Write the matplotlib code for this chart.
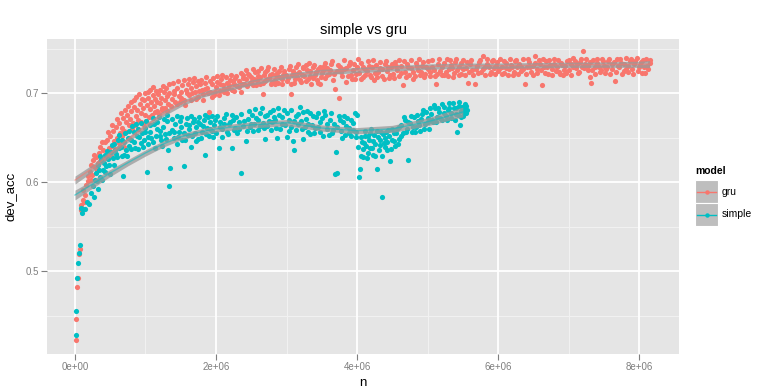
import numpy as np
import matplotlib
matplotlib.use("Agg")
import matplotlib.pyplot as plt
from matplotlib.patches import Rectangle

plt.rcParams['font.family'] = ['Liberation Sans', 'DejaVu Sans']

# ---------------- data (n in millions, dev_acc) ----------------
gru_a = np.array([
 [0.01,0.423],[0.02,0.446],[0.03,0.482],[0.04,0.492],[0.06,0.520],[0.07,0.525],[0.08,0.569],[0.09,0.575],[0.11,0.580],[0.12,0.591],
 [0.13,0.578],[0.14,0.586],[0.16,0.597],[0.18,0.602],[0.19,0.607],[0.21,0.612],[0.23,0.620],[0.24,0.608],[0.26,0.625],[0.28,0.617],
 [0.30,0.628],[0.32,0.622],[0.34,0.633],[0.36,0.640],[0.38,0.626],[0.40,0.636],[0.42,0.645],[0.44,0.630],[0.46,0.648],[0.48,0.638],
 [0.50,0.652],[0.52,0.641],[0.54,0.658],[0.56,0.646],[0.58,0.662],[0.60,0.650],[0.62,0.667],[0.64,0.655],[0.66,0.661],[0.68,0.672],
 [0.70,0.658],[0.72,0.668],[0.74,0.676],[0.76,0.664],[0.78,0.671],[0.80,0.680],[0.82,0.667],[0.84,0.685],[0.86,0.674],[0.88,0.681],
 [0.90,0.670],[0.92,0.688],[0.94,0.678],[0.96,0.684],[0.98,0.692],[1.00,0.676],[1.02,0.687],[1.04,0.695],[1.06,0.682],[1.08,0.690],
 [1.10,0.698],[1.12,0.686],[1.14,0.694],[1.16,0.680],[1.18,0.699],[1.20,0.689],[1.22,0.695],[1.24,0.684],[1.26,0.701],[1.28,0.692],
 [1.30,0.697],[1.32,0.688],[1.34,0.700],[1.37,0.694],[1.40,0.703],[1.42,0.690],[1.45,0.706],[1.47,0.697],[1.50,0.701],[1.52,0.709],
 [1.55,0.693],[1.57,0.704],[1.60,0.711],[1.62,0.698],[1.65,0.706],[1.67,0.713],[1.70,0.701],[1.72,0.708],[1.75,0.696],[1.77,0.710],
 [1.80,0.704],[1.82,0.699],[1.85,0.712],[1.87,0.706],[1.90,0.679],[1.92,0.702],[1.95,0.710],[1.97,0.698],[2.00,0.707],[2.02,0.713],
 [2.05,0.703],[2.07,0.716],[2.10,0.709],[2.12,0.701],[2.15,0.712],[2.17,0.706],[2.20,0.715],[2.22,0.704],[2.25,0.710],[2.27,0.717],
 [2.30,0.708],[2.33,0.714],[2.36,0.701],[2.38,0.720],[2.40,0.710],[2.43,0.716],[2.45,0.722],[2.48,0.712],[2.50,0.718],[2.53,0.709],
 [2.55,0.724],[2.58,0.715],[2.60,0.719],[2.63,0.711],[2.66,0.699],[2.68,0.721],[2.70,0.714],[2.73,0.726],[2.75,0.717],[2.78,0.711],
 [2.80,0.722],[2.83,0.715],[2.85,0.720],[2.88,0.712],[2.90,0.725],[2.93,0.716],[2.95,0.721],[3.00,0.714],[3.03,0.727],[3.06,0.699],
 [3.08,0.720],[3.10,0.712],[3.13,0.730],[3.15,0.718],[3.18,0.724],[3.20,0.713],[3.23,0.728],[3.25,0.719],[3.28,0.732],[3.30,0.716],
 [3.33,0.725],[3.35,0.711],[3.38,0.729],[3.40,0.721],[3.43,0.715],[3.45,0.727],[3.48,0.710],[3.50,0.723],[3.53,0.731],[3.55,0.717],
 [3.58,0.728],[3.60,0.722],[3.63,0.733],[3.66,0.715],[3.69,0.705],[3.71,0.725],[3.74,0.695],[3.76,0.730],[3.79,0.719],[3.82,0.727],
 [3.85,0.713],[3.88,0.732],[3.91,0.721],[3.94,0.726],[3.97,0.716],[4.00,0.729],[4.03,0.723],[4.06,0.734],[4.09,0.718],[4.12,0.727],
 [4.15,0.736],[4.18,0.721],[4.21,0.729],[4.24,0.715],[4.27,0.732],[4.30,0.724],[4.33,0.728],[4.36,0.719],[4.39,0.733],[4.42,0.725],
 [4.45,0.717],[4.48,0.730],[4.51,0.722],[4.54,0.735],[4.57,0.726],[4.60,0.719],[4.63,0.731],[4.65,0.709],[4.68,0.724],[4.71,0.733],
 [4.74,0.720],[4.77,0.728],[4.80,0.716],[4.83,0.734],[4.86,0.726],[4.89,0.721],[4.92,0.731],[4.95,0.718],[4.98,0.729],[5.01,0.736],
 [5.04,0.724],[5.07,0.730],[5.10,0.719],[5.12,0.710],[5.15,0.733],[5.18,0.725],[5.21,0.729],[5.24,0.721],[5.27,0.739],[5.30,0.727],
 [5.33,0.732],[5.36,0.718],[5.39,0.735],[5.42,0.726],[5.45,0.730],[5.48,0.722],[5.51,0.737],[5.54,0.728],[5.57,0.712],[5.60,0.733],
 [5.63,0.726],[5.67,0.710],[5.70,0.731],[5.73,0.735],[5.76,0.724],[5.79,0.742],[5.82,0.729],[5.85,0.733],[5.88,0.722],[5.91,0.736],
 [5.94,0.728],[5.97,0.731],[6.00,0.725],[6.03,0.738],[6.06,0.730],[6.09,0.723],[6.12,0.734],[6.15,0.727],[6.18,0.732],[6.21,0.721],
 [6.24,0.736],[6.27,0.729],[6.30,0.733],[6.33,0.725],[6.36,0.739],[6.38,0.710],[6.41,0.730],[6.44,0.735],[6.47,0.724],[6.50,0.731],
 [6.53,0.742],[6.56,0.727],[6.59,0.733],[6.62,0.709],[6.65,0.729],[6.68,0.736],[6.71,0.722],[6.74,0.732],[6.77,0.727],[6.80,0.738],
 [6.83,0.730],[6.86,0.724],[6.89,0.734],[6.92,0.721],[6.95,0.731],[6.98,0.736],[7.01,0.726],[7.04,0.733],[7.07,0.740],[7.10,0.728],
 [7.13,0.723],[7.16,0.735],[7.19,0.730],[7.21,0.747],[7.24,0.733],[7.27,0.726],[7.30,0.718],[7.32,0.712],[7.35,0.737],[7.38,0.729],
 [7.41,0.734],[7.44,0.724],[7.47,0.739],[7.50,0.731],[7.53,0.727],[7.56,0.736],[7.59,0.722],[7.62,0.733],[7.66,0.714],[7.69,0.738],
 [7.72,0.729],[7.75,0.734],[7.78,0.725],[7.81,0.740],[7.84,0.731],[7.87,0.736],[7.90,0.727],[7.93,0.733],[7.97,0.740],[8.00,0.729],
 [8.03,0.735],[8.06,0.737],[8.09,0.723],[8.12,0.731],[8.15,0.734],
])
gru_b = np.array([
 [0.22,0.603],[0.27,0.631],[0.31,0.614],[0.35,0.624],[0.39,0.645],[0.43,0.627],[0.47,0.656],[0.49,0.632],
 [0.51,0.630],[0.53,0.664],[0.57,0.637],[0.59,0.671],[0.63,0.644],[0.65,0.678],[0.67,0.652],[0.69,0.640],[0.71,0.681],[0.73,0.656],
 [0.75,0.686],[0.77,0.650],[0.79,0.690],[0.81,0.660],[0.83,0.692],[0.85,0.664],[0.87,0.696],[0.89,0.660],[0.91,0.699],[0.93,0.668],
 [0.95,0.694],[0.97,0.665],[0.99,0.700],[1.01,0.669],[1.03,0.702],[1.05,0.673],[1.07,0.704],[1.09,0.676],[1.11,0.707],[1.13,0.679],
 [1.15,0.703],[1.17,0.690],[1.19,0.677],[1.21,0.704],[1.23,0.681],[1.25,0.708],[1.27,0.683],[1.29,0.706],[1.31,0.680],[1.33,0.710],
 [1.36,0.686],[1.39,0.712],[1.41,0.699],[1.44,0.688],[1.46,0.714],[1.49,0.690],[1.51,0.695],[1.54,0.715],[1.56,0.687],[1.59,0.700],
 [1.61,0.716],[1.64,0.692],[1.66,0.700],[1.69,0.717],[1.71,0.694],[1.74,0.714],[1.76,0.703],[1.79,0.715],[1.81,0.693],[1.84,0.705],
 [1.86,0.718],[1.89,0.700],[1.91,0.714],[1.94,0.696],[1.96,0.717],[1.99,0.702],[2.01,0.719],[2.04,0.698],[2.06,0.710],[2.09,0.720],
 [2.11,0.705],[2.14,0.718],[2.16,0.700],[2.19,0.709],[2.21,0.721],[2.24,0.714],[2.26,0.703],[2.29,0.719],[2.32,0.707],[2.35,0.723],
 [2.37,0.711],[2.39,0.717],[2.42,0.726],[2.44,0.708],[2.47,0.720],[2.49,0.713],[2.52,0.727],[2.54,0.716],[2.57,0.709],[2.59,0.725],
 [2.62,0.718],[2.64,0.728],[2.67,0.712],[2.69,0.724],[2.72,0.716],[2.74,0.729],[2.77,0.720],[2.79,0.713],[2.82,0.727],[2.84,0.710],
 [2.87,0.723],[2.89,0.718],[2.92,0.730],[2.94,0.711],[2.97,0.725],[2.99,0.720],[3.02,0.717],[3.05,0.731],[3.07,0.711],[3.09,0.725],
 [3.12,0.716],[3.14,0.722],[3.17,0.733],[3.19,0.715],[3.22,0.721],[3.24,0.730],[3.27,0.714],[3.29,0.726],[3.32,0.734],[3.34,0.719],
 [3.37,0.717],[3.39,0.732],[3.42,0.724],[3.44,0.712],[3.47,0.730],[3.49,0.718],[3.52,0.726],[3.54,0.734],[3.57,0.720],[3.62,0.726],
 [3.65,0.736],[3.68,0.722],[3.73,0.732],[3.78,0.724],[3.81,0.737],[3.84,0.728],[3.87,0.719],[3.90,0.735],[3.93,0.716],[3.96,0.733],
 [3.99,0.722],[4.02,0.738],[4.05,0.716],[4.08,0.730],[4.11,0.720],[4.14,0.725],[4.17,0.731],[4.20,0.718],[4.23,0.737],[4.26,0.723],
 [4.29,0.718],[4.32,0.735],[4.35,0.727],[4.38,0.716],[4.41,0.736],[4.44,0.729],[4.47,0.721],[4.50,0.733],[4.53,0.717],[4.56,0.731],
 [4.59,0.737],[4.62,0.723],[4.67,0.736],[4.70,0.718],[4.73,0.730],[4.76,0.737],[4.79,0.724],[4.82,0.719],[4.85,0.731],[4.88,0.738],
 [4.91,0.724],[4.94,0.735],[4.97,0.722],[5.00,0.727],[5.03,0.719],[5.06,0.737],[5.09,0.726],[5.14,0.722],[5.17,0.738],[5.20,0.720],
 [5.23,0.734],[5.26,0.724],[5.29,0.719],[5.32,0.737],[5.35,0.728],[5.38,0.723],[5.41,0.738],[5.44,0.720],[5.47,0.734],[5.50,0.727],
 [5.53,0.720],[5.56,0.735],[5.59,0.724],[5.62,0.737],[5.65,0.721],[5.69,0.727],[5.72,0.723],[5.75,0.737],[5.78,0.727],[5.81,0.721],
 [5.84,0.738],[5.87,0.729],[5.90,0.724],[5.93,0.737],[5.96,0.722],[5.99,0.735],[6.02,0.727],[6.05,0.722],[6.08,0.736],[6.11,0.728],
 [6.14,0.721],[6.17,0.738],[6.20,0.729],[6.23,0.724],[6.26,0.737],[6.29,0.722],[6.32,0.730],[6.35,0.727],[6.40,0.722],[6.43,0.738],
 [6.46,0.729],[6.49,0.721],[6.52,0.734],[6.55,0.723],[6.58,0.737],[6.61,0.726],[6.64,0.738],[6.67,0.723],[6.70,0.730],[6.73,0.737],
 [6.76,0.721],[6.79,0.733],[6.82,0.725],[6.85,0.737],[6.88,0.722],[6.91,0.732],[6.94,0.726],[6.97,0.723],[7.00,0.737],[7.03,0.721],
 [7.06,0.730],[7.09,0.736],[7.12,0.733],[7.15,0.724],[7.18,0.738],[7.22,0.728],[7.25,0.739],[7.28,0.731],[7.31,0.735],[7.34,0.726],
 [7.37,0.722],[7.40,0.738],[7.43,0.730],[7.46,0.726],[7.49,0.736],[7.52,0.723],[7.55,0.730],[7.58,0.739],[7.61,0.727],[7.64,0.735],
 [7.67,0.724],[7.70,0.731],[7.73,0.738],[7.76,0.722],[7.79,0.733],[7.82,0.727],[7.85,0.724],[7.88,0.738],[7.91,0.722],[7.95,0.736],
 [7.98,0.725],[8.01,0.732],[8.04,0.723],[8.07,0.729],[8.10,0.739],[8.13,0.727],[8.16,0.737],
])

simple_a = np.array([
 [0.01,0.428],[0.02,0.455],[0.03,0.493],[0.04,0.509],[0.06,0.521],[0.07,0.530],[0.08,0.571],[0.10,0.566],[0.12,0.570],[0.14,0.570],
 [0.17,0.578],[0.20,0.576],[0.22,0.588],[0.25,0.596],[0.27,0.583],[0.29,0.603],[0.32,0.593],[0.30,0.611],[0.33,0.620],[0.35,0.606],
 [0.37,0.625],[0.40,0.614],[0.42,0.631],[0.44,0.618],[0.47,0.626],[0.49,0.609],[0.51,0.634],[0.54,0.627],[0.56,0.643],[0.58,0.632],
 [0.61,0.648],[0.63,0.638],[0.66,0.629],[0.68,0.607],[0.70,0.645],[0.72,0.636],[0.75,0.650],[0.77,0.641],[0.80,0.647],[0.83,0.656],
 [0.85,0.639],[0.88,0.652],[0.90,0.660],[0.93,0.644],[0.95,0.655],[0.98,0.648],[1.00,0.661],[1.02,0.612],[1.04,0.651],[1.07,0.657],
 [1.10,0.645],[1.12,0.665],[1.15,0.652],[1.17,0.668],[1.20,0.658],[1.22,0.647],[1.25,0.662],[1.27,0.654],[1.30,0.669],[1.32,0.636],
 [1.33,0.596],[1.35,0.616],[1.37,0.659],[1.40,0.650],[1.42,0.665],[1.45,0.643],[1.47,0.657],[1.50,0.662],[1.52,0.648],[1.55,0.618],
 [1.57,0.666],[1.60,0.653],[1.62,0.660],[1.65,0.640],[1.67,0.668],[1.70,0.655],[1.72,0.662],[1.75,0.649],[1.78,0.666],[1.80,0.657],
 [1.83,0.670],[1.85,0.631],[1.87,0.661],[1.90,0.652],[1.92,0.668],[1.95,0.658],[1.97,0.664],[2.00,0.655],[2.04,0.639],[2.06,0.668],
 [2.09,0.660],[2.12,0.672],[2.15,0.657],[2.18,0.665],[2.22,0.639],[2.24,0.670],[2.27,0.661],[2.30,0.655],[2.33,0.668],[2.35,0.611],
 [2.38,0.663],[2.42,0.646],[2.45,0.671],[2.48,0.662],[2.51,0.676],[2.54,0.665],[2.57,0.672],[2.60,0.659],[2.63,0.678],[2.66,0.667],
 [2.69,0.674],[2.70,0.649],[2.73,0.663],[2.76,0.679],[2.79,0.668],[2.82,0.673],[2.85,0.661],[2.87,0.650],[2.90,0.676],[2.93,0.666],
 [2.96,0.681],[3.00,0.651],[3.03,0.670],[3.06,0.662],[3.09,0.646],[3.11,0.636],[3.13,0.675],[3.16,0.666],[3.19,0.685],[3.22,0.660],
 [3.24,0.649],[3.27,0.671],[3.30,0.657],[3.33,0.678],[3.36,0.664],[3.39,0.655],[3.42,0.673],[3.45,0.662],[3.48,0.668],[3.52,0.652],
 [3.55,0.676],[3.58,0.660],[3.61,0.670],[3.64,0.655],[3.67,0.666],[3.69,0.609],[3.70,0.634],[3.72,0.611],[3.74,0.674],[3.77,0.658],
 [3.80,0.668],[3.83,0.653],[3.86,0.672],[3.89,0.661],[3.92,0.652],[3.95,0.667],[3.98,0.657],[4.00,0.676],[4.03,0.606],[4.04,0.615],
 [4.05,0.629],[4.07,0.645],[4.09,0.637],[4.11,0.652],[4.13,0.641],[4.15,0.633],[4.17,0.648],[4.19,0.655],[4.21,0.638],[4.23,0.646],
 [4.25,0.630],[4.28,0.615],[4.30,0.651],[4.32,0.642],[4.34,0.656],[4.36,0.584],[4.38,0.644],[4.40,0.650],[4.42,0.636],[4.44,0.659],
 [4.47,0.624],[4.49,0.647],[4.52,0.655],[4.54,0.641],[4.57,0.660],[4.59,0.649],[4.62,0.664],[4.65,0.655],[4.68,0.670],[4.71,0.660],
 [4.72,0.625],[4.75,0.667],[4.78,0.656],[4.81,0.673],[4.84,0.662],[4.87,0.669],[4.90,0.658],[4.92,0.677],[4.94,0.681],[4.97,0.666],
 [5.00,0.672],[5.02,0.660],[5.05,0.677],[5.08,0.668],[5.11,0.683],[5.14,0.673],[5.17,0.679],[5.20,0.670],[5.23,0.685],[5.26,0.675],
 [5.29,0.681],[5.31,0.689],[5.34,0.672],[5.37,0.684],[5.40,0.677],[5.42,0.657],[5.44,0.686],[5.46,0.664],[5.48,0.680],[5.50,0.674],
 [5.52,0.683],[5.54,0.686],[5.55,0.678],
])
simple_b = np.array([
 [0.31,0.601],[0.34,0.614],[0.36,0.629],[0.39,0.603],[0.41,0.622],[0.43,0.612],[0.46,0.635],[0.48,0.619],[0.52,0.642],[0.55,0.620],
 [0.57,0.636],[0.60,0.628],[0.62,0.653],[0.65,0.640],[0.67,0.647],[0.69,0.631],[0.71,0.655],[0.74,0.630],[0.76,0.658],[0.79,0.637],
 [0.81,0.663],[0.84,0.645],[0.86,0.665],[0.89,0.637],[0.91,0.651],[0.94,0.667],[0.97,0.640],[0.99,0.656],[1.01,0.669],[1.03,0.643],
 [1.06,0.664],[1.08,0.650],[1.11,0.672],[1.13,0.639],[1.16,0.660],[1.19,0.673],[1.21,0.652],[1.24,0.641],[1.26,0.671],[1.29,0.649],
 [1.31,0.676],[1.34,0.655],[1.38,0.671],[1.41,0.656],[1.44,0.674],[1.46,0.651],[1.49,0.669],[1.51,0.673],[1.54,0.655],[1.56,0.648],
 [1.59,0.672],[1.61,0.664],[1.64,0.675],[1.66,0.652],[1.69,0.671],[1.71,0.646],[1.74,0.668],[1.76,0.673],[1.79,0.650],[1.82,0.663],
 [1.84,0.676],[1.86,0.654],[1.89,0.673],[1.91,0.660],[1.94,0.675],[1.96,0.651],[1.99,0.670],[2.02,0.675],[2.05,0.662],[2.08,0.651],
 [2.11,0.665],[2.14,0.677],[2.17,0.654],[2.20,0.668],[2.23,0.676],[2.26,0.659],[2.29,0.673],[2.32,0.660],[2.36,0.677],[2.40,0.669],
 [2.44,0.658],[2.47,0.680],[2.50,0.666],[2.53,0.658],[2.56,0.682],[2.59,0.670],[2.62,0.663],[2.65,0.683],[2.68,0.661],[2.72,0.676],
 [2.75,0.669],[2.78,0.659],[2.81,0.681],[2.84,0.670],[2.88,0.684],[2.91,0.660],[2.94,0.673],[2.98,0.664],[3.01,0.678],[3.04,0.658],
 [3.07,0.681],[3.10,0.669],[3.14,0.659],[3.17,0.677],[3.20,0.669],[3.23,0.679],[3.26,0.662],[3.29,0.680],[3.31,0.666],[3.34,0.654],
 [3.38,0.674],[3.41,0.661],[3.44,0.678],[3.47,0.656],[3.50,0.672],[3.53,0.680],[3.57,0.665],[3.60,0.653],[3.63,0.678],[3.66,0.659],
 [3.71,0.662],[3.76,0.670],[3.79,0.650],[3.82,0.675],[3.85,0.663],[3.88,0.655],[3.91,0.670],[3.94,0.659],[3.97,0.678],[3.99,0.651],
 [4.02,0.640],[4.06,0.651],[4.08,0.628],[4.10,0.644],[4.12,0.658],[4.14,0.627],[4.16,0.652],[4.18,0.639],[4.20,0.660],[4.22,0.631],
 [4.24,0.653],[4.26,0.643],[4.29,0.658],[4.31,0.636],[4.33,0.648],[4.35,0.629],[4.37,0.654],[4.39,0.640],[4.41,0.657],[4.43,0.645],
 [4.46,0.652],[4.48,0.637],[4.50,0.660],[4.53,0.646],[4.55,0.655],[4.58,0.643],[4.60,0.662],[4.63,0.652],[4.66,0.673],[4.69,0.657],
 [4.73,0.668],[4.76,0.675],[4.79,0.662],[4.82,0.656],[4.85,0.676],[4.88,0.664],[4.91,0.671],[4.95,0.660],[4.98,0.679],[5.01,0.668],
 [5.03,0.684],[5.06,0.670],[5.09,0.687],[5.12,0.668],[5.15,0.683],[5.18,0.672],[5.21,0.688],[5.24,0.678],[5.27,0.670],[5.30,0.684],
 [5.33,0.678],[5.36,0.689],[5.39,0.670],[5.41,0.684],[5.43,0.676],[5.45,0.690],[5.47,0.673],[5.49,0.685],[5.51,0.679],[5.53,0.688],
 [5.56,0.681],
])
gru = np.vstack([gru_a, gru_b])
simple = np.vstack([simple_a, simple_b])

# loess smoother
gru_smooth_n = [0, 0.25, 0.5, 0.75, 1.0, 1.25, 1.5, 1.75, 2.0, 2.5, 3.0, 3.5, 4.0, 4.5, 5.0, 5.5, 6.0, 6.5, 7.0, 7.5, 8.0, 8.15]
gru_smooth_acc = [0.6025, 0.616, 0.632, 0.648, 0.663, 0.677, 0.688, 0.697, 0.703, 0.712, 0.7195, 0.724, 0.726, 0.728, 0.730, 0.731, 0.731, 0.7315, 0.732, 0.7322, 0.7326, 0.7328]
gru_smooth_se = [0.0045, 0.004, 0.0035, 0.003, 0.003, 0.003, 0.003, 0.003, 0.003, 0.003, 0.003, 0.003, 0.003, 0.003, 0.003, 0.003, 0.003, 0.003, 0.003, 0.003, 0.0035, 0.004]
simple_smooth_n = [0, 0.25, 0.5, 0.75, 1.0, 1.25, 1.5, 1.75, 2.0, 2.5, 3.0, 3.5, 4.0, 4.5, 5.0, 5.5]
simple_smooth_acc = [0.5857, 0.598, 0.6105, 0.622, 0.633, 0.643, 0.651, 0.656, 0.660, 0.6645, 0.667, 0.661, 0.658, 0.660, 0.668, 0.679]
simple_smooth_se = [0.0055, 0.0045, 0.004, 0.0035, 0.0035, 0.0035, 0.0035, 0.0035, 0.0035, 0.0035, 0.0035, 0.0035, 0.0035, 0.004, 0.0045, 0.0055]

x_ticks = [0, 2e6, 4e6, 6e6, 8e6]
x_ticklabels = ["0e+00", "2e+06", "4e+06", "6e+06", "8e+06"]
y_ticks = [0.5, 0.6, 0.7]
y_ticklabels = ["0.5", "0.6", "0.7"]
models = ["gru", "simple"]
colors = {"gru": "#F8766D", "simple": "#00BFC4"}

# ---------------- figure ----------------
W, H = 774, 391
fig = plt.figure(figsize=(W / 100, H / 100), dpi=100)
L, R, T, B = 47, 679, 39, 354
ax = fig.add_axes([L / W, (H - B) / H, (R - L) / W, (B - T) / H])
ax.set_facecolor("#E5E5E5")
for s in ax.spines.values():
    s.set_visible(False)

ax.set_xlim(-0.397e6, 8.567e6)
ax.set_ylim(0.4071, 0.7610)

# grid
for xm in [1e6, 3e6, 5e6, 7e6]:
    ax.axvline(xm, color="#F2F2F2", lw=0.7, zorder=0.5)
for ym in [0.45, 0.55, 0.65, 0.75]:
    ax.axhline(ym, color="#F2F2F2", lw=0.7, zorder=0.5)
for xm in x_ticks:
    ax.axvline(xm, color="white", lw=1.3, zorder=0.6)
for ym in y_ticks:
    ax.axhline(ym, color="white", lw=1.3, zorder=0.6)

data = {"gru": gru, "simple": simple}
for m in models:
    d = data[m]
    ax.scatter(d[:, 0] * 1e6, d[:, 1], s=14, color=colors[m], marker="o",
               linewidths=0, zorder=2)

smooth = {
    "gru": (gru_smooth_n, gru_smooth_acc, gru_smooth_se),
    "simple": (simple_smooth_n, simple_smooth_acc, simple_smooth_se),
}
for m in models:
    sn, sa, se = smooth[m]
    sn = np.array(sn) * 1e6
    sa = np.array(sa)
    se = np.array(se)
    ax.fill_between(sn, sa - se, sa + se, color="#999999", alpha=0.75, lw=0, zorder=3)
    ax.plot(sn, sa, color=colors[m], lw=1.0, alpha=0.55, zorder=4)

ax.set_xticks(x_ticks)
ax.set_xticklabels(x_ticklabels)
ax.set_yticks(y_ticks)
ax.set_yticklabels(y_ticklabels)
ax.tick_params(axis="both", colors="#7F7F7F", labelcolor="#7F7F7F",
               labelsize=7, length=4, width=0.8, pad=2)

ax.set_xlabel("n", fontsize=9.5, labelpad=3)
ax.set_ylabel("dev_acc", fontsize=9.5, labelpad=6)
ax.set_title("simple vs gru", fontsize=10.5, pad=3.6)

# ---------------- legend ----------------
kx, ky0, kw, kh = 695, 180, 23, 23
lax = fig.add_axes([kx / W, (H - ky0 - 2 * kh) / H, kw / W, 2 * kh / H])
lax.set_xlim(0, 1)
lax.set_ylim(0, 2)
lax.axis("off")
for i, m in enumerate(models):
    yb = 1 - i  # gru top, simple bottom
    lax.add_patch(Rectangle((0, yb), 1, 1, facecolor="#BEBEBE", edgecolor="white", lw=0.8))
    lax.plot([0.08, 0.92], [yb + 0.5, yb + 0.5], color=colors[m], lw=1.0)
    lax.plot([0.5], [yb + 0.5], marker="o", ms=3.2, color=colors[m], mec="none")
    fig.text((kx + kw + 4) / W, 1 - (ky0 + kh * i + kh / 2) / H, m,
             fontsize=7.5, va="center", ha="left")
fig.text(kx / W, 1 - 171 / H, "model", fontsize=7.5, fontweight="bold",
         va="center", ha="left")

fig.savefig("out.png", dpi=100)
